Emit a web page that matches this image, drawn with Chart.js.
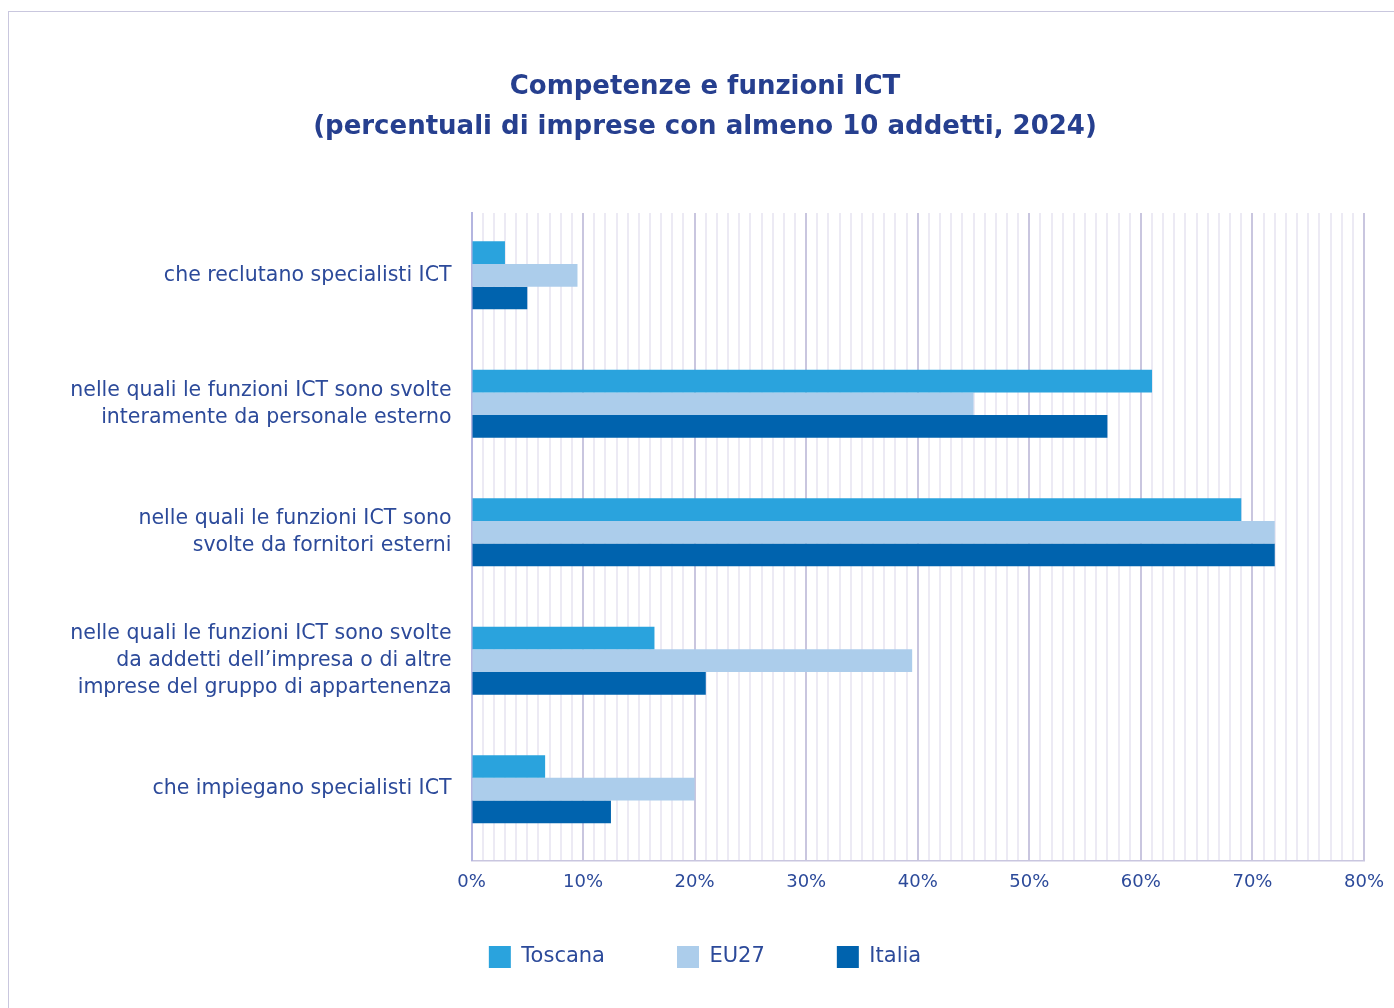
<!DOCTYPE html>
<html>
<head>
<meta charset="utf-8">
<script src="https://cdn.jsdelivr.net/npm/chart.js@4/dist/chart.umd.min.js"></script>
<style>
    html, body { margin: 0; padding: 0; background: #ffffff; overflow: hidden; }
    .chart-wrapper {
        position: absolute;
        left: 8px;
        top: 11px;
        width: 1386px;
        height: 996px;
        border-left: 1.5px solid #c9c7de;
        border-top: 1.5px solid #c9c7de;
    }
</style>
</head>
<body>
<div class="chart-wrapper">
    <canvas id="myBarChart"></canvas>
</div>
<script>
const categories = [
    ['che reclutano specialisti ICT'],
    ['nelle quali le funzioni ICT sono svolte', 'interamente da personale esterno'],
    ['nelle quali le funzioni ICT sono', 'svolte da fornitori esterni'],
    ['nelle quali le funzioni ICT sono svolte', 'da addetti dell\u2019impresa o di altre', 'imprese del gruppo di appartenenza'],
    ['che impiegano specialisti ICT']
];
const toscanaValues = [3, 61, 69, 16.4, 6.6];
const eu27Values = [9.5, 45, 72, 39.5, 20];
const italiaValues = [5, 57, 72, 21, 12.5];
const tickLabels = ['0%', '10%', '20%', '30%', '40%', '50%', '60%', '70%', '80%'];

const textColor = '#2c4a9a';
const titleColor = '#263f8f';
const fontFamily = "'DejaVu Sans', sans-serif";

// legend sits a bit closer to the axis than chart.js would put it,
// and the category bands stop a few px short of the bottom axis line
const layoutTweaks = {
    id: 'layoutTweaks',
    afterInit(chart) {
        const legend = chart.legend;
        const drawLegend = legend.draw.bind(legend);
        legend.draw = function(area) {
            chart.ctx.save();
            chart.ctx.translate(0, -30);
            drawLegend(area);
            chart.ctx.restore();
        };
    },
    afterLayout(chart) {
        const y = chart.scales.y;
        y._startPixel = y.top - 2;
        y._endPixel = y.bottom - 7;
        y._length = y._endPixel - y._startPixel;
    }
};

document.addEventListener('DOMContentLoaded', () => {
    const ctx = document.getElementById('myBarChart').getContext('2d');
    new Chart(ctx, {
        type: 'bar',
        data: {
            labels: categories,
            datasets: [
                { label: 'Toscana', data: toscanaValues, backgroundColor: '#2aa3dd' },
                { label: 'EU27', data: eu27Values, backgroundColor: '#accdeb' },
                { label: 'Italia', data: italiaValues, backgroundColor: '#0063ae' }
            ]
        },
        plugins: [layoutTweaks],
        options: {
            indexAxis: 'y',
            responsive: true,
            maintainAspectRatio: false,
            animation: false,
            categoryPercentage: 0.53,
            barPercentage: 1.0,
            layout: { padding: { left: 18, right: 12, bottom: 0 } },
            plugins: {
                title: {
                    display: true,
                    text: ['Competenze e funzioni ICT', '(percentuali di imprese con almeno 10 addetti, 2024)'],
                    color: titleColor,
                    font: { family: fontFamily, size: 26, weight: 'bold', lineHeight: 1.54 },
                    padding: { top: 55, bottom: 66 }
                },
                legend: {
                    position: 'bottom',
                    labels: {
                        color: textColor,
                        font: { family: fontFamily, size: 21 },
                        boxWidth: 22,
                        boxHeight: 22,
                        padding: 72
                    }
                },
                tooltip: { enabled: false }
            },
            scales: {
                x: {
                    min: 0,
                    max: 80,
                    ticks: {
                        stepSize: 1,
                        autoSkip: false,
                        maxRotation: 0,
                        padding: 11,
                        color: textColor,
                        font: { family: fontFamily, size: 18 },
                        callback: function(value) {
                            return value % 10 === 0 ? tickLabels[value / 10] : '';
                        }
                    },
                    grid: {
                        drawTicks: false,
                        lineWidth: 2,
                        color: function(c) {
                            return c.tick && c.tick.value % 10 === 0 ? '#c9c6df' : '#eceaf4';
                        }
                    },
                    border: { color: '#c9c6df', width: 1.5 }
                },
                y: {
                    afterFit: function(scale) {
                        scale.width = 444.5;
                    },
                    ticks: {
                        padding: 20,
                        color: textColor,
                        font: { family: fontFamily, size: 20.5, lineHeight: 1.32 }
                    },
                    grid: { display: false, drawTicks: false },
                    border: { color: '#b4b5e0', width: 2 }
                }
            }
        }
    });
});
</script>
</body>
</html>
